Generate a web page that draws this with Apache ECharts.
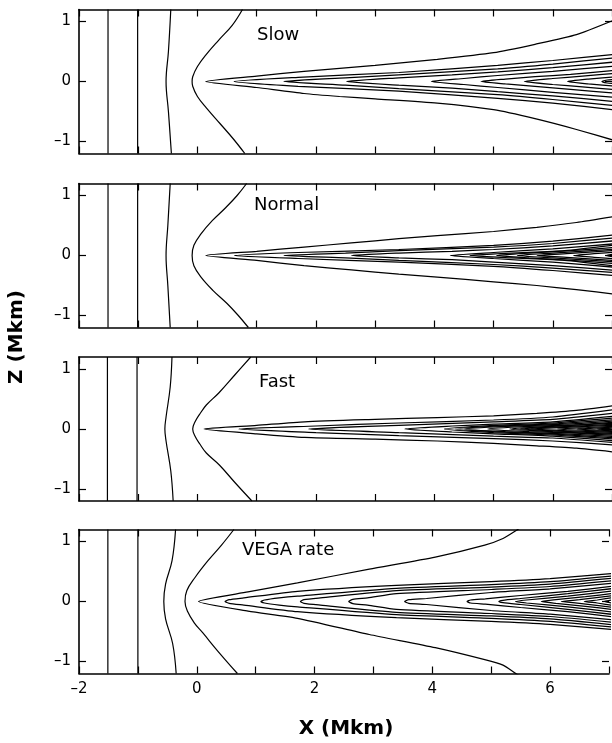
<!DOCTYPE html>
<html><head><meta charset="utf-8">
<script src="https://cdn.jsdelivr.net/npm/echarts@6/dist/echarts.min.js"></script>
<style>html,body{margin:0;padding:0;background:#fff}#c{width:612px;height:743px}</style>
</head><body><div id="c"></div><script>
// ---------- data ----------
const panelNames = ['Slow', 'Normal', 'Fast', 'VEGA rate'];
const xMin = -2, xMax = 7, xStep = 1;
const yMin = -1.2, yMax = 1.2;
const yTickValues = [-1, 0, 1];
const xLabelValues = [-2, 0, 2, 4, 6];

// left-side contours (point lists [x, z])
const slowSide = [
  [[-1.51, 1.2], [-1.51, -1.2]],
  [[-1.01, 1.2], [-1.01, -1.2]],
  [[-0.45, 1.2], [-0.49, 0.5], [-0.53, 0], [-0.49, -0.5], [-0.44, -1.2]],
  [[0.76, 1.2], [0.59, 0.94], [0.36, 0.69], [0.14, 0.44], [0.0, 0.25], [-0.08, 0.08], [-0.09, 0], [-0.08, -0.08], [0.0, -0.25], [0.15, -0.44], [0.38, -0.7], [0.6, -0.95], [0.8, -1.2]]
];
const normalSide = [
  [[-1.51, 1.2], [-1.51, -1.2]],
  [[-1.01, 1.2], [-1.01, -1.2]],
  [[-0.46, 1.2], [-0.5, 0.5], [-0.53, 0], [-0.5, -0.5], [-0.46, -1.2]],
  [[0.83, 1.2], [0.67, 1.0], [0.48, 0.8], [0.25, 0.58], [0.06, 0.36], [-0.06, 0.17], [-0.09, 0], [-0.06, -0.17], [0.06, -0.36], [0.26, -0.58], [0.5, -0.8], [0.69, -1.0], [0.86, -1.2]]
];
const fastSide = [
  [[-1.52, 1.2], [-1.52, -1.2]],
  [[-1.02, 1.2], [-1.02, -1.2]],
  [[-0.43, 1.2], [-0.46, 0.7], [-0.53, 0.2], [-0.55, 0], [-0.53, -0.2], [-0.45, -0.7], [-0.41, -1.2]],
  [[0.9, 1.2], [0.63, 0.9], [0.36, 0.6], [0.15, 0.4], [0.04, 0.25], [-0.04, 0.12], [-0.08, 0], [-0.04, -0.12], [0.04, -0.25], [0.15, -0.4], [0.37, -0.6], [0.64, -0.9], [0.92, -1.2]]
];
const vegaSide = [
  [[-1.51, 1.2], [-1.51, -1.2]],
  [[-1.0, 1.2], [-1.0, -1.2]],
  [[-0.36, 1.2], [-0.42, 0.68], [-0.53, 0.29], [-0.56, 0], [-0.53, -0.29], [-0.41, -0.7], [-0.35, -1.2]],
  [[0.63, 1.2], [0.42, 0.94], [0.19, 0.68], [-0.03, 0.4], [-0.17, 0.18], [-0.2, 0], [-0.16, -0.16], [-0.04, -0.36], [0.1, -0.52], [0.36, -0.83], [0.69, -1.2]]
];

// flame contours: [x values, upper z, lower z]
const slowFlame = [
  [[0.14, 1.0, 1.8, 2.4, 3.0, 4.05, 5.0, 5.7, 6.4, 7.1], [0, 0.09, 0.17, 0.22, 0.27, 0.37, 0.48, 0.62, 0.78, 1.05], [0, -0.1, -0.2, -0.25, -0.29, -0.36, -0.47, -0.62, -0.8, -1.0]],
  [[0.62, 1.7, 3.4, 5.07, 6.0, 7.1], [0, 0.07, 0.15, 0.27, 0.35, 0.46], [0, -0.08, -0.16, -0.28, -0.36, -0.48]],
  [[1.46, 2.5, 3.4, 5.07, 6.0, 7.1], [0, 0.06, 0.11, 0.21, 0.29, 0.40], [0, -0.06, -0.12, -0.22, -0.3, -0.41]],
  [[2.52, 3.4, 4.3, 5.07, 6.0, 7.1], [0, 0.06, 0.11, 0.16, 0.23, 0.33], [0, -0.06, -0.11, -0.17, -0.24, -0.34]],
  [[3.95, 4.5, 5.07, 6.0, 7.1], [0, 0.05, 0.1, 0.17, 0.26], [0, -0.05, -0.1, -0.18, -0.27]],
  [[4.79, 5.2, 5.7, 6.3, 7.1], [0, 0.04, 0.08, 0.12, 0.19], [0, -0.04, -0.08, -0.13, -0.2]],
  [[5.52, 6.0, 6.5, 7.1], [0, 0.05, 0.09, 0.14], [0, -0.05, -0.09, -0.14]],
  [[6.25, 6.6, 7.1], [0, 0.04, 0.08], [0, -0.04, -0.08]],
  [[6.83, 6.92, 7.1], [0, 0.025, 0.04], [0, -0.025, -0.04]]
];
const normalFlame = [
  [[0.14, 1.0, 1.8, 2.6, 3.4, 4.05, 5.0, 5.73, 6.4, 7.1], [0, 0.07, 0.14, 0.21, 0.28, 0.33, 0.4, 0.47, 0.55, 0.66], [0, -0.08, -0.17, -0.24, -0.31, -0.36, -0.44, -0.5, -0.57, -0.65]],
  [[0.62, 1.7, 3.4, 5.0, 6.0, 7.1], [0, 0.05, 0.1, 0.17, 0.24, 0.35], [0, -0.05, -0.11, -0.18, -0.25, -0.34]],
  [[1.46, 2.5, 3.4, 5.0, 6.0, 7.1], [0, 0.04, 0.08, 0.14, 0.2, 0.3], [0, -0.04, -0.08, -0.15, -0.21, -0.29]],
  [[2.6, 3.4, 4.3, 5.0, 6.0, 7.1], [0, 0.04, 0.07, 0.1, 0.16, 0.25], [0, -0.04, -0.07, -0.11, -0.17, -0.25]],
  [[4.27, 5.0, 6.0, 7.1], [0, 0.05, 0.11, 0.2], [0, -0.05, -0.11, -0.2]],
  [[4.6, 5.3, 6.2, 7.1], [0, 0.04, 0.08, 0.18], [0, -0.04, -0.08, -0.18]],
  [[5.05, 5.6, 6.3, 7.1], [0, 0.04, 0.08, 0.14], [0, -0.04, -0.08, -0.14]],
  [[5.4, 6.0, 7.1], [0, 0.04, 0.11], [0, -0.04, -0.11]],
  [[5.73, 6.3, 7.1], [0, 0.035, 0.09], [0, -0.035, -0.09]],
  [[6.35, 6.7, 7.1], [0, 0.03, 0.06], [0, -0.03, -0.06]],
  [[6.9, 7.0, 7.1], [0, 0.02, 0.03], [0, -0.02, -0.03]]
];
const fastFlame = [
  [[0.11, 1.0, 1.81, 3.0, 4.05, 5.0, 5.73, 6.4, 7.1], [0, 0.06, 0.12, 0.16, 0.19, 0.22, 0.26, 0.31, 0.4], [0, -0.08, -0.14, -0.17, -0.2, -0.24, -0.28, -0.32, -0.39]],
  [[0.70, 2.0, 3.4, 5.0, 6.0, 7.1], [0, 0.05, 0.1, 0.15, 0.2, 0.33], [0, -0.06, -0.11, -0.16, -0.2, -0.27]],
  [[1.88, 3.4, 5.0, 6.0, 7.1], [0, 0.06, 0.12, 0.16, 0.27], [0, -0.06, -0.12, -0.15, -0.23]],
  [[3.5, 4.3, 5.0, 6.0, 7.1], [0, 0.05, 0.08, 0.12, 0.22], [0, -0.05, -0.08, -0.12, -0.2]],
  [[4.17, 5.0, 6.0, 7.1], [0, 0.06, 0.1, 0.19], [0, -0.06, -0.1, -0.17]],
  [[4.35, 5.1, 6.1, 7.1], [0, 0.05, 0.09, 0.16], [0, -0.05, -0.09, -0.15]],
  [[4.51, 5.2, 6.2, 7.1], [0, 0.045, 0.08, 0.14], [0, -0.045, -0.08, -0.13]],
  [[4.9, 5.6, 6.4, 7.1], [0, 0.045, 0.07, 0.12], [0, -0.045, -0.07, -0.11]],
  [[5.27, 6.0, 7.1], [0, 0.045, 0.1], [0, -0.045, -0.09]],
  [[5.45, 6.1, 7.1], [0, 0.035, 0.08], [0, -0.035, -0.075]],
  [[5.63, 6.3, 7.1], [0, 0.03, 0.065], [0, -0.03, -0.06]],
  [[6.08, 6.6, 7.1], [0, 0.025, 0.05], [0, -0.025, -0.045]],
  [[6.41, 6.8, 7.1], [0, 0.02, 0.035], [0, -0.02, -0.035]],
  [[6.75, 6.95, 7.1], [0, 0.012, 0.02], [0, -0.012, -0.02]]
];
const vegaFlame = [
  [[0.03, 0.87, 1.71, 2.93, 4.05, 4.89, 5.2, 5.45, 5.6], [0, 0.16, 0.31, 0.54, 0.74, 0.94, 1.05, 1.2, 1.3], [0, -0.16, -0.28, -0.55, -0.77, -0.97, -1.06, -1.22, -1.3]],
  [[0.48, 0.55, 0.8, 1.71, 3.39, 5.0, 6.0, 7.1], [0, 0.03, 0.06, 0.17, 0.27, 0.33, 0.38, 0.47], [0, -0.03, -0.06, -0.17, -0.27, -0.33, -0.38, -0.47]],
  [[1.09, 1.15, 1.4, 1.71, 3.39, 5.0, 6.0, 7.1], [0, 0.025, 0.06, 0.09, 0.22, 0.28, 0.33, 0.43], [0, -0.025, -0.06, -0.09, -0.22, -0.28, -0.33, -0.43]],
  [[1.76, 1.82, 2.1, 3.39, 5.0, 6.0, 7.1], [0, 0.03, 0.06, 0.18, 0.24, 0.29, 0.39], [0, -0.03, -0.06, -0.18, -0.24, -0.29, -0.39]],
  [[2.58, 2.65, 2.9, 3.39, 5.0, 6.0, 7.1], [0, 0.035, 0.06, 0.13, 0.2, 0.25, 0.35], [0, -0.035, -0.06, -0.13, -0.2, -0.25, -0.35]],
  [[3.53, 3.6, 3.9, 5.0, 6.0, 7.1], [0, 0.03, 0.05, 0.15, 0.21, 0.31], [0, -0.03, -0.05, -0.15, -0.21, -0.31]],
  [[4.59, 4.65, 4.9, 5.5, 6.3, 7.1], [0, 0.025, 0.045, 0.1, 0.17, 0.26], [0, -0.025, -0.045, -0.1, -0.17, -0.26]],
  [[5.13, 5.2, 5.5, 6.3, 7.1], [0, 0.02, 0.05, 0.13, 0.22], [0, -0.02, -0.05, -0.13, -0.22]],
  [[5.41, 5.6, 6.3, 7.1], [0, 0.025, 0.09, 0.18], [0, -0.025, -0.09, -0.18]],
  [[5.85, 6.1, 6.6, 7.1], [0, 0.03, 0.08, 0.14], [0, -0.03, -0.08, -0.14]],
  [[6.19, 6.5, 7.1], [0, 0.03, 0.1], [0, -0.03, -0.1]],
  [[6.58, 6.8, 7.1], [0, 0.025, 0.07], [0, -0.025, -0.07]],
  [[6.92, 7.0, 7.1], [0, 0.015, 0.04], [0, -0.015, -0.04]]
];

const panelSide = [slowSide, normalSide, fastSide, vegaSide];
const panelFlame = [slowFlame, normalFlame, fastFlame, vegaFlame];

// ---------- layout ----------
const gridLeft = 79, gridWidth = 534, gridHeight = 144;
const gridTops = [9.5, 183.5, 357, 529.5];
const nameBoxes = [[257, 35], [254, 205], [259, 382], [242, 550]];
const black = '#000';

function flamePoints(c) {
  const xs = c[0], up = c[1], lo = c[2];
  const pts = [];
  for (let i = xs.length - 1; i >= 0; i--) pts.push([xs[i], up[i]]);
  for (let i = 1; i < xs.length; i++) pts.push([xs[i], lo[i]]);
  return pts;
}
const fmtNum = v => (v < 0 ? '\u2013' + (-v) : String(v));

const grid = [], xAxis = [], yAxis = [], series = [];
gridTops.forEach((t, i) => {
  grid.push({ left: gridLeft, top: t, width: gridWidth, height: gridHeight, show: false });
  const tick = { show: true, inside: true, length: 7, lineStyle: { color: black, width: 1.2 } };
  const line = { show: true, onZero: false, lineStyle: { color: black, width: 1.6 } };
  xAxis.push({
    type: 'value', gridIndex: i, position: 'bottom', min: xMin, max: xMax, interval: xStep,
    axisLine: line, axisTick: tick, splitLine: { show: false },
    axisLabel: {
      show: i === 3, margin: 8, color: black, fontFamily: 'DejaVu Sans', fontSize: 15,
      formatter: v => (xLabelValues.indexOf(v) >= 0 ? fmtNum(v) : '')
    }
  });
  xAxis.push({
    type: 'value', gridIndex: i, position: 'top', min: xMin, max: xMax, interval: xStep,
    axisLine: line, axisTick: tick, splitLine: { show: false }, axisLabel: { show: false }
  });
  yAxis.push({
    type: 'value', gridIndex: i, position: 'left', min: yMin, max: yMax,
    axisLine: line, axisTick: Object.assign({ customValues: yTickValues }, tick),
    splitLine: { show: false },
    axisLabel: { customValues: yTickValues, margin: 8, color: black, fontFamily: 'DejaVu Sans', fontSize: 15, formatter: fmtNum }
  });
  yAxis.push({
    type: 'value', gridIndex: i, position: 'right', min: yMin, max: yMax,
    axisLine: { show: false, onZero: false }, axisTick: Object.assign({ customValues: yTickValues }, tick),
    splitLine: { show: false }, axisLabel: { show: false }
  });
  panelSide[i].forEach(pts => series.push({
    type: 'line', xAxisIndex: 2 * i, yAxisIndex: 2 * i, data: pts, showSymbol: false, smooth: 0.4,
    silent: true, clip: true, lineStyle: { color: black, width: 1.2 }
  }));
  panelFlame[i].forEach(c => series.push({
    type: 'line', xAxisIndex: 2 * i, yAxisIndex: 2 * i, data: flamePoints(c), showSymbol: false, smooth: 0.2,
    silent: true, clip: true, lineStyle: { color: black, width: 1.25 }
  }));
});

const graphic = panelNames.map((n, i) => ({
  type: 'text', x: nameBoxes[i][0], y: nameBoxes[i][1], silent: true,
  style: { text: n, fill: black, font: '18px "DejaVu Sans"', verticalAlign: 'middle', textVerticalAlign: 'middle' }
}));
graphic.push({
  type: 'text', x: 346, y: 729, silent: true,
  style: { text: 'X (Mkm)', fill: black, font: 'bold 20px "DejaVu Sans"', align: 'center', textAlign: 'center', verticalAlign: 'middle', textVerticalAlign: 'middle' }
});
graphic.push({
  type: 'text', x: 17, y: 337, rotation: Math.PI / 2, silent: true,
  style: { text: 'Z (Mkm)', fill: black, font: 'bold 20px "DejaVu Sans"', align: 'center', textAlign: 'center', verticalAlign: 'middle', textVerticalAlign: 'middle' }
});

const chart = echarts.init(document.getElementById('c'), null, { renderer: 'canvas' });
chart.setOption({ animation: false, backgroundColor: '#fff', grid, xAxis, yAxis, series, graphic });
</script></body></html>
